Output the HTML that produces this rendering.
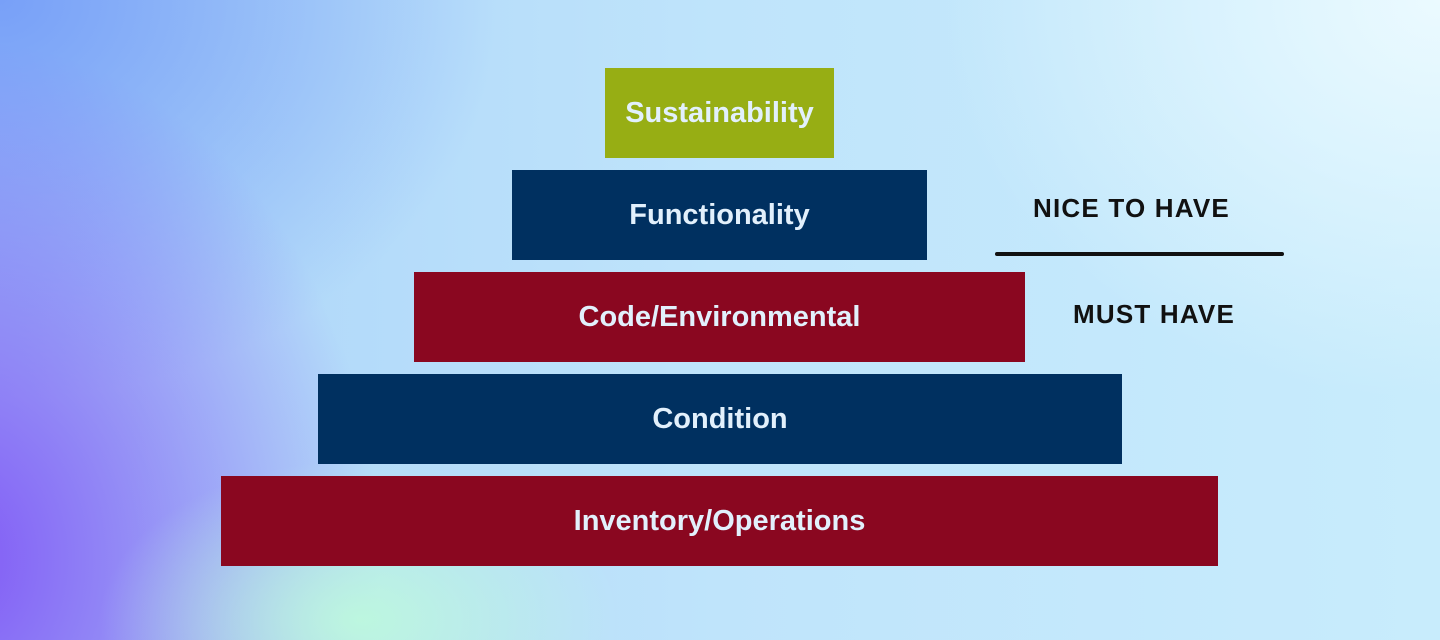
<!DOCTYPE html>
<html><head><meta charset="utf-8"><style>
html,body{margin:0;padding:0}
body{width:1440px;height:640px;position:relative;overflow:hidden;font-family:"Liberation Sans",Arial,sans-serif;
background:
radial-gradient(ellipse 260px 160px at 360px 620px, rgba(190,250,220,0.9), rgba(190,250,220,0) 100%),
radial-gradient(ellipse 420px 520px at -40px 560px, rgba(130,90,245,1), rgba(130,90,245,0) 100%),
radial-gradient(ellipse 500px 400px at 0px 0px, rgba(120,160,248,1), rgba(120,160,248,0) 100%),
radial-gradient(ellipse 500px 400px at 1440px 0px, rgba(235,250,255,1), rgba(235,250,255,0) 100%),
linear-gradient(90deg,#a9d2f8 0%,#bfe4fb 50%,#c8ecfc 100%);}
.b{position:absolute;height:90px;display:flex;align-items:center;justify-content:center;color:#e2f0fc;font-weight:bold;font-size:29px}
.r{background:#8a0720}.n{background:#003060}
.t{position:absolute;font-weight:bold;font-size:26px;letter-spacing:1.2px;color:#111}
</style></head><body>
<div class="b" style="left:605px;top:68px;width:229px;background:#97ae14">Sustainability</div>
<div class="b n" style="left:512px;top:170px;width:415px">Functionality</div>
<div class="b r" style="left:414px;top:272px;width:611px">Code/Environmental</div>
<div class="b n" style="left:318px;top:374px;width:804px">Condition</div>
<div class="b r" style="left:221px;top:476px;width:997px">Inventory/Operations</div>
<div class="t" style="left:1033px;top:193px">NICE TO HAVE</div>
<div style="position:absolute;left:995px;top:252px;width:289px;height:4px;background:#111;border-radius:2px"></div>
<div class="t" style="left:1073px;top:299px">MUST HAVE</div>
</body></html>
